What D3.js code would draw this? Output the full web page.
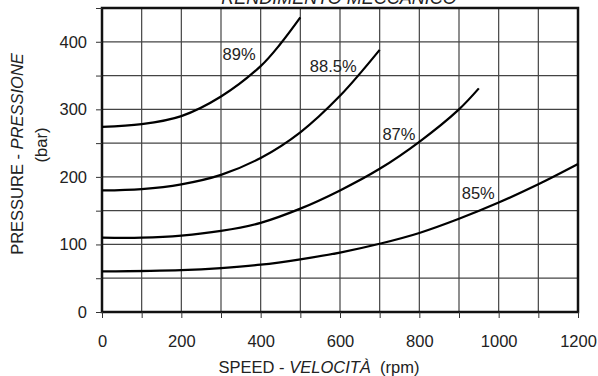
<!DOCTYPE html>
<html>
<head>
<meta charset="utf-8">
<script src="https://cdn.jsdelivr.net/npm/d3@7"></script>
<style>
  body { margin: 0; background: #fff; }
  text { font-family: "Liberation Sans", Arial, sans-serif; fill: #222; }
</style>
</head>
<body>
<svg id="chart" width="598" height="376"></svg>
<script>
// speed (rpm) / pressure (bar) points
const speed89 = [0, 100, 200, 300, 400, 450, 500];
const press89 = [274, 278, 290, 319, 364, 397, 436];

const speed885 = [0, 100, 200, 300, 400, 500, 600, 700];
const press885 = [180, 182, 189, 203, 228, 266, 320, 388];

const speed87 = [0, 100, 200, 300, 400, 500, 600, 700, 800, 900, 950];
const press87 = [110, 110, 113, 120, 132, 153, 180, 212, 252, 300, 331];

const speed85 = [0, 200, 300, 400, 500, 600, 700, 800, 900, 1000, 1100, 1200];
const press85 = [60, 62, 65, 70, 78, 88, 101, 117, 138, 162, 189, 219];

const curveLabels = ["89%", "88.5%", "87%", "85%"];
// label anchors in data units (left edge, baseline)
const labelSpeed = [304, 524, 707, 907];
const labelPress = [373, 355, 255, 168];

const xTicks = [0, 200, 400, 600, 800, 1000, 1200];
const yTicks = [0, 100, 200, 300, 400];

const svg = d3.select("#chart");
const x = d3.scaleLinear().domain([0, 1200]).range([102, 578]);
const y = d3.scaleLinear().domain([0, 450]).range([312, 8]);

// grid
svg.append("g")
  .selectAll("line")
  .data(d3.range(100, 1200, 100))
  .join("line")
  .attr("x1", d => x(d)).attr("x2", d => x(d))
  .attr("y1", y(0)).attr("y2", y(450))
  .attr("stroke", "#444").attr("stroke-width", 1.2);

svg.append("g")
  .selectAll("line")
  .data(d3.range(50, 450, 50))
  .join("line")
  .attr("x1", x(0)).attr("x2", x(1200))
  .attr("y1", d => y(d)).attr("y2", d => y(d))
  .attr("stroke", "#444").attr("stroke-width", 1.2);

// frame
svg.append("rect")
  .attr("x", x(0)).attr("y", y(450))
  .attr("width", x(1200) - x(0)).attr("height", y(0) - y(450))
  .attr("fill", "none").attr("stroke", "#111").attr("stroke-width", 2.5);

// axes
const xAxis = svg.append("g")
  .attr("transform", `translate(0,${y(0)})`)
  .call(d3.axisBottom(x).tickValues(d3.range(0, 1201, 100)).tickSize(6)
    .tickFormat(d => xTicks.includes(d) ? d : ""));
xAxis.select(".domain").remove();
xAxis.selectAll("line").attr("stroke", "#333");
xAxis.selectAll("text").attr("font-size", 16.5).attr("dy", "1.55em").style("fill", "#222");

const yAxis = svg.append("g")
  .attr("transform", `translate(${x(0)},0)`)
  .call(d3.axisLeft(y).tickValues(d3.range(0, 451, 50)).tickSize(6).tickPadding(9)
    .tickFormat(d => yTicks.includes(d) ? d : ""));
yAxis.select(".domain").remove();
yAxis.selectAll("line").attr("stroke", "#333");
yAxis.selectAll("text").attr("font-size", 16.5).style("fill", "#222");

// curves
const line = d3.line()
  .x(d => x(d[0])).y(d => y(d[1]))
  .curve(d3.curveCatmullRom.alpha(0.5));

const series = [
  d3.zip(speed89, press89),
  d3.zip(speed885, press885),
  d3.zip(speed87, press87),
  d3.zip(speed85, press85)
];

svg.append("g")
  .selectAll("path")
  .data(series)
  .join("path")
  .attr("d", line)
  .attr("fill", "none")
  .attr("stroke", "#000")
  .attr("stroke-width", 2.2);

svg.append("g")
  .selectAll("text")
  .data(curveLabels)
  .join("text")
  .attr("x", (d, i) => x(labelSpeed[i]))
  .attr("y", (d, i) => y(labelPress[i]))
  .attr("font-size", 16.5)
  .text(d => d);

// title, cut by the top edge as in the original
svg.append("text")
  .attr("x", 339).attr("y", 4)
  .attr("text-anchor", "middle")
  .attr("font-size", 18)
  .attr("font-style", "italic")
  .text("RENDIMENTO MECCANICO");

// x title
const xt = svg.append("text")
  .attr("x", 319).attr("y", 373)
  .attr("text-anchor", "middle")
  .attr("font-size", 16.5);
xt.append("tspan").text("SPEED - ");
xt.append("tspan").attr("font-style", "italic").text("VELOCITÀ");
xt.append("tspan").text("\u00a0 (rpm)");

// y title
const yt = svg.append("text")
  .attr("transform", "translate(23,154) rotate(-90)")
  .attr("text-anchor", "middle")
  .attr("font-size", 16.5);
yt.append("tspan").text("PRESSURE - ");
yt.append("tspan").attr("font-style", "italic").text("PRESSIONE");

svg.append("text")
  .attr("transform", "translate(47,145) rotate(-90)")
  .attr("text-anchor", "middle")
  .attr("font-size", 16.5)
  .text("(bar)");
</script>
</body>
</html>
